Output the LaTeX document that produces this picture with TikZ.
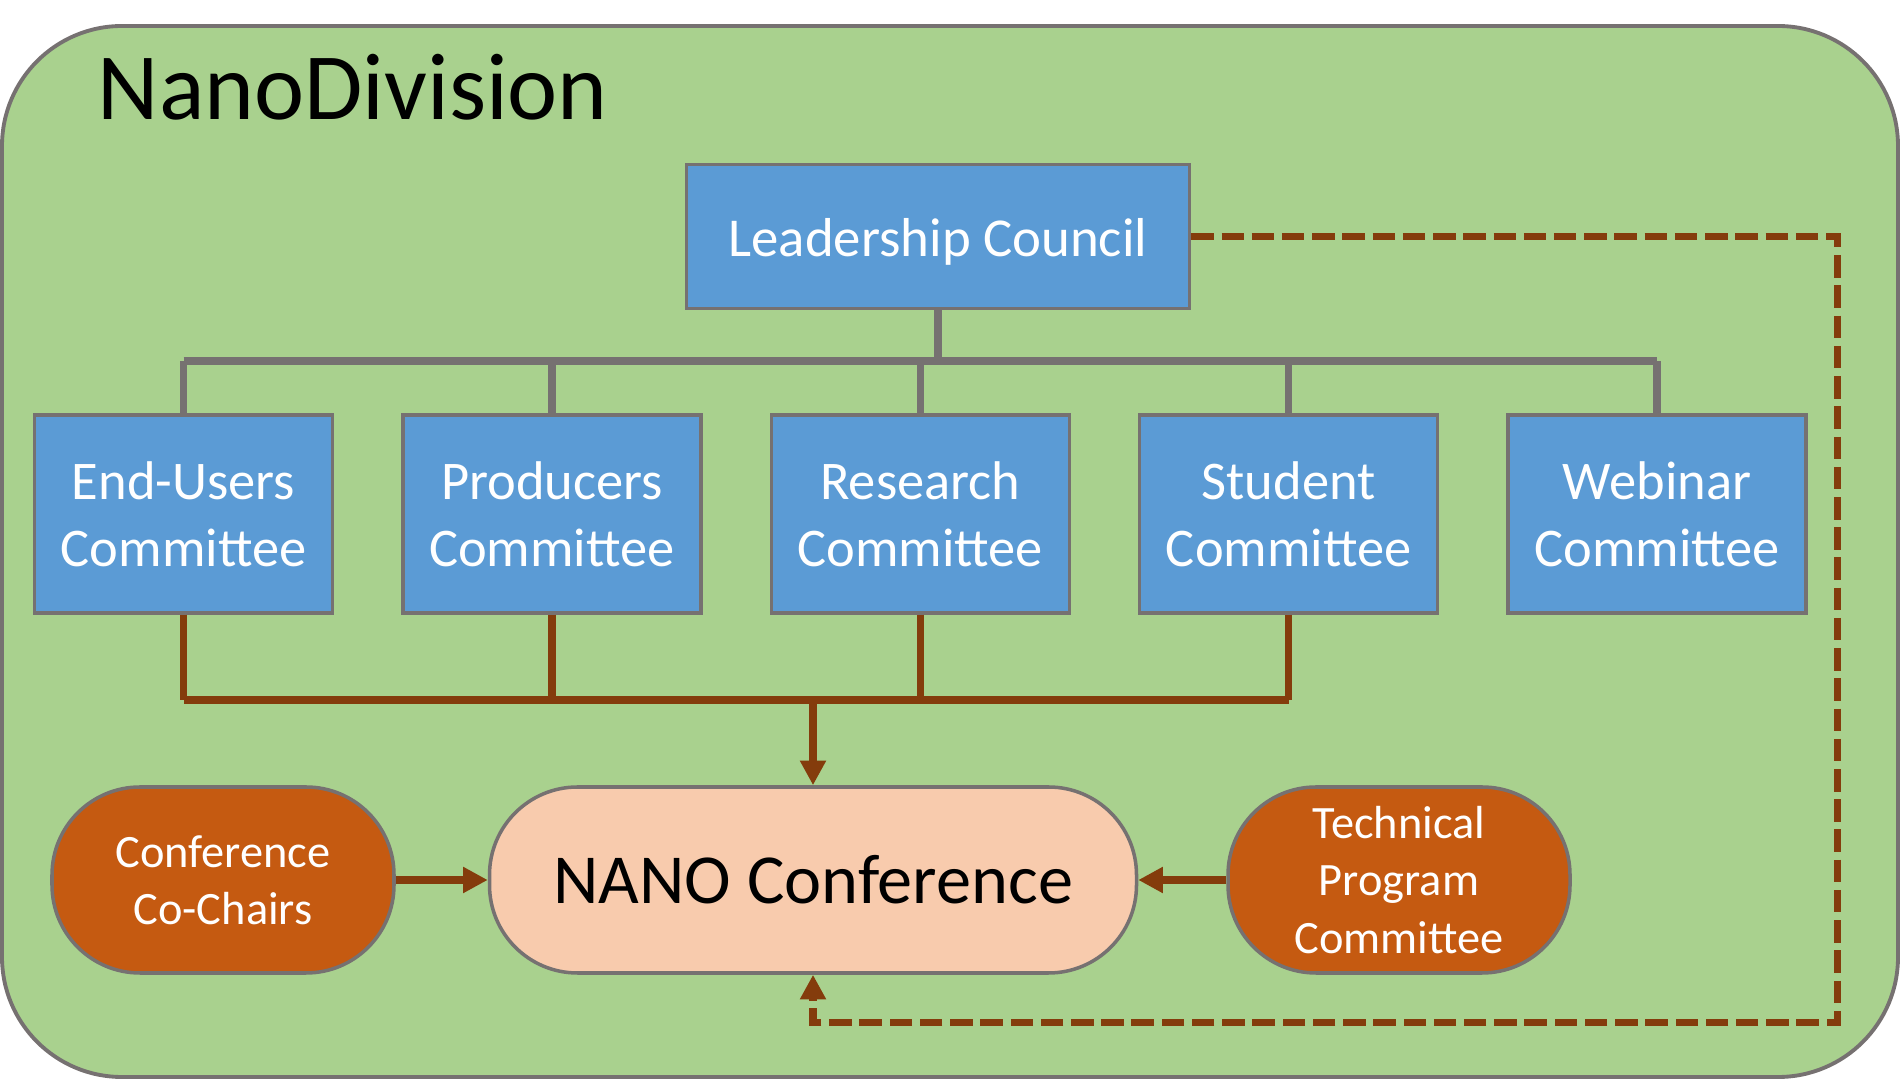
\documentclass[tikz,border=0pt]{standalone}
\usepackage{fontspec}
\setmainfont{Carlito}
\usetikzlibrary{arrows.meta}

\definecolor{divgreen}{HTML}{A9D18E}
\definecolor{boxblue}{HTML}{5B9BD5}
\definecolor{edgegray}{HTML}{767171}
\definecolor{linkbrown}{HTML}{843C0C}
\definecolor{chairorange}{HTML}{C55A11}
\definecolor{confpeach}{HTML}{F8CBAD}

\begin{document}
\begin{tikzpicture}[
    unit/.style={draw=edgegray, line width=1pt, fill=boxblue, text=white, inner sep=0pt, align=center},
    pill/.style={draw=edgegray, line width=1pt, rounded corners=0.88cm, inner sep=0pt, align=center,
        minimum width=3.42cm, minimum height=1.86cm},
    tree/.style={draw=edgegray, line width=2.1pt},
    feed/.style={draw=linkbrown, line width=2.1pt},
    tip/.style={-{Triangle[length=7pt, width=7pt]}}
]
    % Spacing of the committee row
    \def\dx{3.684}
    \useasboundingbox (0,0) rectangle (19,10.8);

    % Draw the division frame
    \draw[edgegray, line width=1.1pt, fill=divgreen, rounded corners=1.2cm] (0.02,0.03) rectangle (18.98,10.54);
    \node[anchor=base west, inner sep=0pt, font=\fontsize{27}{32}\selectfont] (title) at (0.97,9.6) {NanoDivision};

    % Leadership and committees
    \node[unit, minimum width=5.03cm, minimum height=1.44cm, text height=0.4cm, text depth=0pt,
        font=\fontsize{15.6}{19}\selectfont] (lead) at (9.38,8.435) {Leadership Council};
    \foreach \i/\name in {1/End-Users, 2/Producers, 3/Research, 4/Student, 5/Webinar}
        \node[unit, minimum width=2.98cm, minimum height=1.98cm, font=\fontsize{15.5}{19}\selectfont] (c\i) at ({1.835+\dx*(\i-1)},5.66) {\name\\Committee};

    % Conference nodes
    \node[pill, fill=confpeach, minimum width=6.47cm, font=\fontsize{20}{24}\selectfont] (nano) at (8.13,2.0) {NANO Conference};
    \node[pill, fill=chairorange, text=white, font=\fontsize{13.2}{16.1}\selectfont] (chairs) at (2.23,2.0) {Conference\\Co-Chairs};
    \node[pill, fill=chairorange, text=white, font=\fontsize{13.2}{16.3}\selectfont] (tpc) at (13.99,2.0) {Technical\\Program\\Committee};

    % Draw the reporting tree
    \coordinate (bus) at (9.38,7.19);
    \draw[tree] (lead.south) -- (bus);
    \draw[tree] (c1.north |- bus) -- (c5.north |- bus);
    \foreach \i in {1,...,5}
        \draw[tree] (c\i.north |- bus) -- (c\i.north);

    % Committees feed the conference
    \coordinate (join) at (8.13,3.80);
    \draw[feed] (c1.south |- join) -- (c4.south |- join);
    \foreach \i in {1,...,4}
        \draw[feed] (c\i.south) -- (c\i.south |- join);
    \draw[feed, tip] (join) -- (nano.north);
    \draw[feed, tip] (chairs.east) -- (nano.west);
    \draw[feed, tip] (tpc.west) -- (nano.east);

    % Dashed link from the council
    \coordinate (loop) at (18.375,0.575);
    \draw[feed, tip, dash pattern=on 6.4pt off 2.2pt] (lead.east) -| (loop) -| (nano.south);
\end{tikzpicture}
\end{document}
